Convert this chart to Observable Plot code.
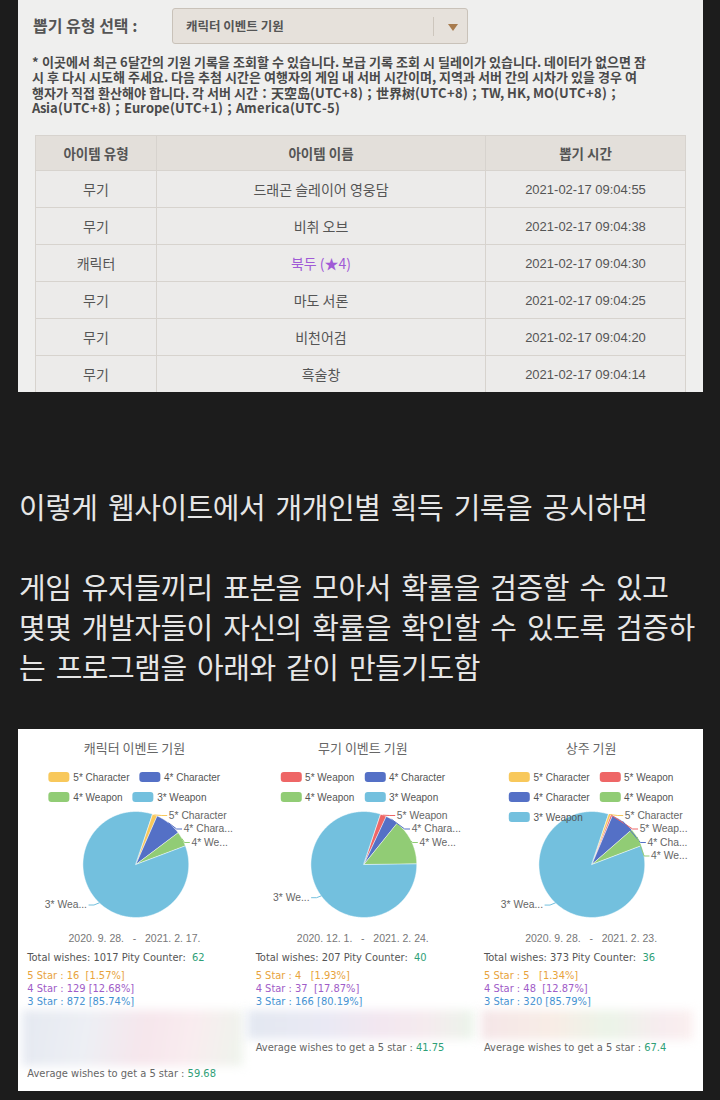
<!DOCTYPE html>
<html><head><meta charset="utf-8">
<script src="https://cdn.jsdelivr.net/npm/d3@7"></script>
<script src="https://cdn.jsdelivr.net/npm/@observablehq/plot@0.6"></script>
<style>
@font-face{font-family:"KRTight";src:local("Noto Sans CJK KR Bold"),local("NotoSansCJKkr-Bold"),local("Noto Sans CJK KR");font-weight:700;ascent-override:90%;descent-override:14%;line-gap-override:0%;}
@font-face{font-family:"KRTight";src:local("Noto Sans CJK KR Regular"),local("NotoSansCJKkr-Regular"),local("Noto Sans CJK KR");font-weight:400;ascent-override:90%;descent-override:14%;line-gap-override:0%;}
body{margin:0;background:#1c1c1c;width:720px;height:1100px;position:relative;overflow:hidden;font-family:"Noto Sans CJK KR","Noto Sans",sans-serif;}
.abs{position:absolute;white-space:pre;}
#top{position:absolute;left:18px;top:0;width:685px;height:392px;background:#efefee;overflow:hidden;}
#sel{left:15px;top:13px;font-size:16px;font-weight:700;color:#555;line-height:24px;}
#dd{left:154px;top:8px;width:296px;height:36px;background:#e6e1db;border:1px solid #c9c2b9;border-radius:3px;box-sizing:border-box;}
#ddtext{left:13px;top:8px;font-size:12.5px;font-weight:700;color:#555;line-height:18px;}
#dddiv{left:260px;top:8px;width:1px;height:19px;background:#cdc6bd;}
#ddtri{left:275px;top:15px;width:0;height:0;border-left:5.5px solid transparent;border-right:5.5px solid transparent;border-top:7px solid #a87b4d;}
.note{left:14px;font-family:"KRTight","Noto Sans CJK KR",sans-serif;font-size:13px;font-weight:700;color:#4a4a4a;line-height:15px;}
#tbl{position:absolute;left:17px;top:135px;border-collapse:collapse;table-layout:fixed;}
#tbl th,#tbl td{border:1px solid #d7d3ce;text-align:center;color:#555;padding:0;}
#tbl th{background:#e3dfda;height:34px;font-size:13.5px;font-weight:700;}
#tbl td{background:#ecebea;height:36px;font-size:14px;}
#tbl td.t{font-family:"Liberation Sans",sans-serif;font-size:13px;}
.para{left:19px;font-size:29px;color:#e6e6e6;letter-spacing:-0.5px;word-spacing:4.5px;line-height:40px;}
#bot{position:absolute;left:18px;top:729px;width:685px;height:362px;background:#fff;overflow:hidden;}
.col{position:absolute;top:0;width:228.33px;height:362px;}
.title{position:absolute;left:0;width:100%;text-align:center;top:9px;font-size:13px;color:#666;line-height:20px;}
.legend{position:absolute;top:38px;left:50%;transform:translateX(-50%);z-index:2;}
.lrow{display:flex;height:20px;align-items:center;white-space:nowrap;}
.litem{display:flex;align-items:center;margin-right:10px;font-family:"Liberation Sans",sans-serif;font-size:10px;color:#555;}
.litem:last-child{margin-right:0;}
.sw{width:21px;height:10px;border-radius:3px;margin-right:3.5px;}
.date{position:absolute;left:0;width:100%;text-align:center;top:201px;font-family:"Liberation Sans",sans-serif;font-size:10.5px;color:#777;line-height:16px;white-space:pre;}
.stat{position:absolute;left:7px;font-family:"Liberation Sans Narrow","DejaVu Sans Condensed",sans-serif;font-size:11px;line-height:14px;white-space:pre;color:#555;}
.g{color:#2f9f77;}
.blur{position:absolute;filter:blur(5px);}
#chart{position:absolute;left:0;top:66px;z-index:1;}
</style></head><body>
<div id="top">
  <div id="sel" class="abs"></div>
  <div id="dd" class="abs"><div id="ddtext" class="abs"></div><div id="dddiv" class="abs"></div><div id="ddtri" class="abs"></div></div>
  <div id="notes"></div>
  <table id="tbl"><colgroup><col style="width:121px"><col style="width:329px"><col style="width:200px"></colgroup><thead><tr id="hdr"></tr></thead><tbody id="tbody"></tbody></table>
</div>
<div id="paras"></div>
<div id="bot"><div id="chart"></div></div>
<script>
// ---------- data ----------
const selectLabel = "뽑기 유형 선택 :";
const selectedBanner = "캐릭터 이벤트 기원";
const noteLines = [
  "* 이곳에서 최근 6달간의 기원 기록을 조회할 수 있습니다. 보급 기록 조회 시 딜레이가 있습니다. 데이터가 없으면 잠",
  "시 후 다시 시도해 주세요. 다음 추첨 시간은 여행자의 게임 내 서버 시간이며, 지역과 서버 간의 시차가 있을 경우 여",
  "행자가 직접 환산해야 합니다. 각 서버 시간：天空岛(UTC+8)；世界树(UTC+8)；TW, HK, MO(UTC+8)；",
  "Asia(UTC+8)；Europe(UTC+1)；America(UTC-5)"
];
const tableHeaders = ["아이템 유형", "아이템 이름", "뽑기 시간"];
const itemTypes = ["무기", "무기", "캐릭터", "무기", "무기", "무기"];
const itemNames = ["드래곤 슬레이어 영웅담", "비취 오브", "북두 (★4)", "마도 서론", "비천어검", "흑술창"];
const itemRarity = [3, 3, 4, 3, 3, 3];
const pullTimes = ["2021-02-17 09:04:55", "2021-02-17 09:04:38", "2021-02-17 09:04:30", "2021-02-17 09:04:25", "2021-02-17 09:04:20", "2021-02-17 09:04:14"];
const paragraphLines = [
  ["이렇게 웹사이트에서 개개인별 획득 기록을 공시하면"],
  ["게임 유저들끼리 표본을 모아서 확률을 검증할 수 있고", "몇몇 개발자들이 자신의 확률을 확인할 수 있도록 검증하", "는 프로그램을 아래와 같이 만들기도함"]
];

const banners = ["캐릭터 이벤트 기원", "무기 이벤트 기원", "상주 기원"];
const allCategories = ["5* Character", "5* Weapon", "4* Character", "4* Weapon", "3* Weapon"];
const charCategories = ["5* Character", "4* Character", "4* Weapon", "3* Weapon"];
const charCounts = [16, 83, 46, 872];
const charLabels = ["5* Character", "4* Chara...", "4* We...", "3* Wea..."];
const weaponCategories = ["5* Weapon", "4* Character", "4* Weapon", "3* Weapon"];
const weaponCounts = [4, 8, 29, 166];
const weaponLabels = ["5* Weapon", "4* Chara...", "4* We...", "3* We..."];
const standardCategories = ["5* Character", "5* Weapon", "4* Character", "4* Weapon", "3* Weapon"];
const standardCounts = [3, 2, 27, 21, 320];
const standardLabels = ["5* Character", "5* Weap...", "4* Cha...", "4* We...", "3* Wea..."];

const dateStarts = ["2020. 9. 28.", "2020. 12. 1.", "2020. 9. 28."];
const dateEnds = ["2021. 2. 17.", "2021. 2. 24.", "2021. 2. 23."];
const totalWishes = [1017, 207, 373];
const pityCounters = [62, 40, 36];
const star5Counts = [16, 4, 5];
const star5Pcts = ["1.57%", "1.93%", "1.34%"];
const star4Counts = [129, 37, 48];
const star4Pcts = ["12.68%", "17.87%", "12.87%"];
const star3Counts = [872, 166, 320];
const star3Pcts = ["85.74%", "80.19%", "85.79%"];
const avgWishes = ["59.68", "41.75", "67.4"];

// ---------- top panel ----------
document.getElementById("sel").textContent = selectLabel;
document.getElementById("ddtext").textContent = selectedBanner;
const notes = document.getElementById("notes");
noteLines.forEach((t, i) => {
  const d = document.createElement("div");
  d.className = "abs note"; d.style.top = (55 + i * 15.3) + "px"; d.textContent = t; notes.appendChild(d);
});
const hdr = document.getElementById("hdr");
tableHeaders.forEach(h => { const th = document.createElement("th"); th.textContent = h; hdr.appendChild(th); });
const tbody = document.getElementById("tbody");
itemTypes.forEach((t, i) => {
  const tr = document.createElement("tr");
  const a = document.createElement("td"); a.textContent = t;
  const b = document.createElement("td"); b.textContent = itemNames[i];
  if (itemRarity[i] === 4) b.style.color = "#a05ad6";
  const c = document.createElement("td"); c.className = "t"; c.textContent = pullTimes[i];
  tr.append(a, b, c); tbody.appendChild(tr);
});

// ---------- paragraph ----------
const paras = document.getElementById("paras");
const lineTops = [486, 566, 606, 646];
paragraphLines.flat().forEach((t, i) => {
  const d = document.createElement("div");
  d.className = "abs para"; d.style.top = lineTops[i] + "px"; d.textContent = t; paras.appendChild(d);
});

// ---------- pie geometry ----------
const series = [
  {banner: banners[0], cats: charCategories, counts: charCounts, labels: charLabels},
  {banner: banners[1], cats: weaponCategories, counts: weaponCounts, labels: weaponLabels},
  {banner: banners[2], cats: standardCategories, counts: standardCounts, labels: standardLabels}
];
const R = 53, START = 18, TOPCAP = 49, GAP = 13.5;
const rad = a => a * Math.PI / 180;
const slicePts = [], leaderPts = [], labelData = [];
series.forEach(s => {
  const total = d3.sum(s.counts);
  let a = START;
  const labs = [];
  s.cats.forEach((c, i) => {
    const a0 = a, a1 = a + s.counts[i] / total * 360; a = a1;
    const key = s.banner + "|" + c;
    slicePts.push({banner: s.banner, key, cat: c, x: 0, y: 0});
    const n = Math.max(2, Math.ceil(a1 - a0));
    for (let k = 0; k <= n; k++) {
      const t = rad(a0 + (a1 - a0) * k / n);
      slicePts.push({banner: s.banner, key, cat: c, x: R * Math.sin(t), y: R * Math.cos(t)});
    }
    const m = rad((a0 + a1) / 2);
    const side = Math.sin(m) >= 0 ? 1 : -1;
    labs.push({banner: s.banner, cat: c, key, text: s.labels[i], m, side, up: (side > 0 ? 60 : 56) * Math.cos(m)});
  });
  [1, -1].forEach(side => {
    const group = labs.filter(l => l.side === side).sort((p, q) => q.up - p.up);
    let prev = TOPCAP + GAP;
    group.forEach(l => {
      l.up = Math.min(l.up, prev - GAP); prev = l.up;
      const lr = side > 0 ? 58 : 62;
      const L = side * Math.sqrt(Math.max(0, lr * lr - l.up * l.up));
      leaderPts.push({banner: l.banner, key: l.key, cat: l.cat, x: R * Math.sin(l.m), y: R * Math.cos(l.m)});
      leaderPts.push({banner: l.banner, key: l.key, cat: l.cat, x: L - side * 5, y: l.up});
      leaderPts.push({banner: l.banner, key: l.key, cat: l.cat, x: L, y: l.up});
      labelData.push({banner: l.banner, text: l.text, side, x: L + side * 2, y: l.up});
    });
  });
});

const chart = Plot.plot({
  width: 685, height: 140, margin: 0,
  style: {background: "transparent", overflow: "visible"},
  fx: {domain: banners, padding: 0, axis: null},
  x: {domain: [-116.5, 111.83], axis: null},
  y: {domain: [-71, 69], axis: null},
  color: {domain: allCategories, range: ["#f8c85b", "#ee6666", "#5470c6", "#91cc75", "#73c0de"]},
  marks: [
    Plot.line(slicePts, {fx: "banner", x: "x", y: "y", z: "key", fill: "cat", stroke: "#ffffff", strokeWidth: 0.5, curve: "linear-closed"}),
    Plot.line(leaderPts, {fx: "banner", x: "x", y: "y", z: "key", stroke: "cat", strokeWidth: 1}),
    Plot.text(labelData.filter(d => d.side > 0), {fx: "banner", x: "x", y: "y", text: "text", textAnchor: "start", fill: "#666", fontSize: 10.3, fontFamily: "Liberation Sans, sans-serif"}),
    Plot.text(labelData.filter(d => d.side < 0), {fx: "banner", x: "x", y: "y", text: "text", textAnchor: "end", fill: "#666", fontSize: 10.3, fontFamily: "Liberation Sans, sans-serif"})
  ]
});
document.getElementById("chart").appendChild(chart);

// ---------- bottom panel columns ----------
const colorOf = c => chart.scale("color").apply(c);
const bot = document.getElementById("bot");
const blurStyles = [
  {l: 4, w: 221, h: 56, bg: "linear-gradient(100deg,#e5e9f1 0%,#edeff4 30%,#f6e6ec 55%,#f9ecef 75%,#eef4ec 100%)"},
  {l: 1, w: 227, h: 29, bg: "linear-gradient(90deg,#e3e8f1 0%,#eae9f4 35%,#f3e7f0 60%,#f5ebee 80%,#ebf4ea 100%)"},
  {l: 6, w: 212, h: 30, bg: "linear-gradient(90deg,#f5e6e8 0%,#f8ede6 35%,#ebf4e8 60%,#f7ecef 85%,#fbefef 100%)"}
];
const avgTops = [338, 312, 312];
series.forEach((s, i) => {
  const col = document.createElement("div");
  col.className = "col"; col.style.left = (i * 228.333 + 2.33) + "px";
  const title = document.createElement("div"); title.className = "title"; title.textContent = s.banner; col.appendChild(title);
  const leg = document.createElement("div"); leg.className = "legend";
  for (let r = 0; r < s.cats.length; r += 2) {
    const row = document.createElement("div"); row.className = "lrow";
    s.cats.slice(r, r + 2).forEach(c => {
      const it = document.createElement("div"); it.className = "litem";
      const sw = document.createElement("div"); sw.className = "sw"; sw.style.background = colorOf(c);
      const tx = document.createElement("span"); tx.textContent = c;
      it.append(sw, tx); row.appendChild(it);
    });
    leg.appendChild(row);
  }
  col.appendChild(leg);
  const date = document.createElement("div"); date.className = "date";
  date.textContent = dateStarts[i] + "   -   " + dateEnds[i]; col.appendChild(date);
  const mk = (top, html, color) => {
    const d = document.createElement("div"); d.className = "stat"; d.style.top = top + "px";
    if (color) d.style.color = color; d.innerHTML = html; col.appendChild(d);
  };
  mk(222, `Total wishes: ${totalWishes[i]} Pity Counter:  <span class="g">${pityCounters[i]}</span>`);
  mk(240, `5 Star : ${String(star5Counts[i]).padEnd(3)} [${star5Pcts[i]}]`, "#e8a33c");
  mk(253, `4 Star : ${String(star4Counts[i]).padEnd(3)} [${star4Pcts[i]}]`, "#a05cc8");
  mk(266, `3 Star : ${String(star3Counts[i]).padEnd(3)} [${star3Pcts[i]}]`, "#3d8fd1");
  const bl = document.createElement("div"); bl.className = "blur";
  const b = blurStyles[i];
  Object.assign(bl.style, {left: (b.l - 2.33) + "px", top: "281px", width: b.w + "px", height: b.h + "px", background: b.bg});
  col.appendChild(bl);
  mk(avgTops[i], `Average wishes to get a 5 star : <span class="g">${avgWishes[i]}</span>`, "#666");
  bot.appendChild(col);
});
</script>
</body></html>
